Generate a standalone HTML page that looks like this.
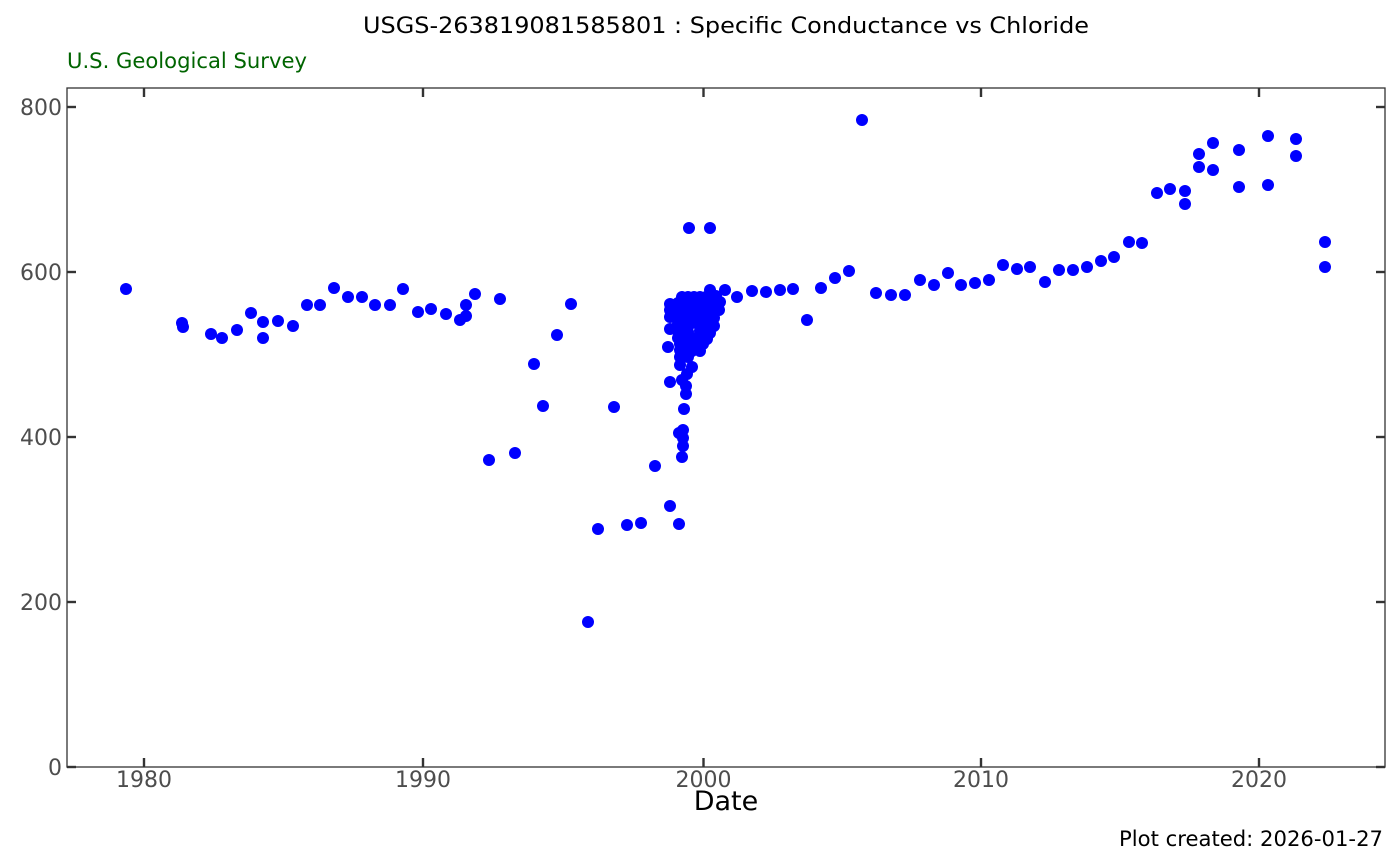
<!DOCTYPE html>
<html><head><meta charset="utf-8"><style>
html,body{margin:0;padding:0;background:#fff;}
svg{display:block;}
text{font-family:"DejaVu Sans","Liberation Sans",sans-serif;}
</style></head><body>
<svg width="1400" height="866" viewBox="0 0 1400 866" xmlns="http://www.w3.org/2000/svg">
<rect x="0" y="0" width="1400" height="866" fill="#fff"/>
<text x="726" y="33" font-size="22" text-anchor="middle" fill="#000" textLength="726" lengthAdjust="spacingAndGlyphs">USGS-263819081585801 : Specific Conductance vs Chloride</text>
<text x="67" y="68" font-size="21" fill="#006400" textLength="240" lengthAdjust="spacingAndGlyphs">U.S. Geological Survey</text>
<text x="1383" y="846" font-size="21" text-anchor="end" fill="#000" textLength="264" lengthAdjust="spacingAndGlyphs">Plot created: 2026-01-27</text>
<text x="726" y="810" font-size="27" text-anchor="middle" fill="#000">Date</text>

<rect x="67" y="88" width="1318" height="679" fill="none" stroke="#333" stroke-width="1.3"/>
<g stroke="#333" stroke-width="2.4">
<line x1="67" y1="767" x2="76" y2="767"/><line x1="67" y1="602" x2="76" y2="602"/><line x1="67" y1="437" x2="76" y2="437"/><line x1="67" y1="272" x2="76" y2="272"/><line x1="67" y1="107" x2="76" y2="107"/>
<line x1="1385" y1="767" x2="1376" y2="767"/><line x1="1385" y1="602" x2="1376" y2="602"/><line x1="1385" y1="437" x2="1376" y2="437"/><line x1="1385" y1="272" x2="1376" y2="272"/><line x1="1385" y1="107" x2="1376" y2="107"/>
<line x1="144" y1="767" x2="144" y2="758"/><line x1="423" y1="767" x2="423" y2="758"/><line x1="703.5" y1="767" x2="703.5" y2="758"/><line x1="981" y1="767" x2="981" y2="758"/><line x1="1259" y1="767" x2="1259" y2="758"/>
<line x1="144" y1="88" x2="144" y2="97"/><line x1="423" y1="88" x2="423" y2="97"/><line x1="703.5" y1="88" x2="703.5" y2="97"/><line x1="981" y1="88" x2="981" y2="97"/><line x1="1259" y1="88" x2="1259" y2="97"/>
</g>
<g font-size="22" fill="#4d4d4d" text-anchor="end">
<text x="62" y="775">0</text><text x="62" y="610">200</text><text x="62" y="445">400</text><text x="62" y="280">600</text><text x="62" y="115">800</text>
</g>
<g font-size="22" fill="#4d4d4d" text-anchor="middle">
<text x="144" y="787">1980</text><text x="423" y="787">1990</text><text x="703.5" y="787">2000</text><text x="981" y="787">2010</text><text x="1259" y="787">2020</text>
</g>

<g fill="#0000ff">
<circle cx="126" cy="289" r="6"/><circle cx="182" cy="323" r="6"/><circle cx="183" cy="327" r="6"/><circle cx="211" cy="334" r="6"/><circle cx="222" cy="338" r="6"/><circle cx="237" cy="330" r="6"/><circle cx="251" cy="313" r="6"/><circle cx="263" cy="322" r="6"/><circle cx="263" cy="338" r="6"/><circle cx="278" cy="321" r="6"/><circle cx="293" cy="326" r="6"/><circle cx="307" cy="305" r="6"/><circle cx="320" cy="305" r="6"/><circle cx="334" cy="288" r="6"/><circle cx="348" cy="297" r="6"/><circle cx="362" cy="297" r="6"/><circle cx="375" cy="305" r="6"/><circle cx="390" cy="305" r="6"/><circle cx="403" cy="289" r="6"/><circle cx="418" cy="312" r="6"/><circle cx="431" cy="309" r="6"/><circle cx="446" cy="314" r="6"/><circle cx="460" cy="320" r="6"/><circle cx="466" cy="316" r="6"/><circle cx="466" cy="305" r="6"/><circle cx="475" cy="294" r="6"/><circle cx="500" cy="299" r="6"/><circle cx="489" cy="460" r="6"/><circle cx="515" cy="453" r="6"/><circle cx="534" cy="364" r="6"/><circle cx="543" cy="406" r="6"/><circle cx="557" cy="335" r="6"/><circle cx="571" cy="304" r="6"/><circle cx="588" cy="622" r="6"/><circle cx="598" cy="529" r="6"/><circle cx="614" cy="407" r="6"/><circle cx="627" cy="525" r="6"/><circle cx="641" cy="523" r="6"/><circle cx="655" cy="466" r="6"/><circle cx="670" cy="506" r="6"/><circle cx="679" cy="524" r="6"/>
<circle cx="689" cy="228" r="6"/><circle cx="710" cy="228" r="6"/>
<!-- cluster -->
<circle cx="682" cy="297" r="6"/><circle cx="688" cy="297" r="6"/><circle cx="694" cy="297" r="6"/><circle cx="700" cy="297" r="6"/><circle cx="706" cy="297" r="6"/><circle cx="716" cy="296" r="6"/><circle cx="720" cy="302" r="6"/>
<circle cx="670" cy="304" r="6"/><circle cx="678" cy="303" r="6"/><circle cx="684" cy="303" r="6"/><circle cx="690" cy="303" r="6"/><circle cx="696" cy="303" r="6"/><circle cx="702" cy="303" r="6"/><circle cx="708" cy="303" r="6"/><circle cx="714" cy="303" r="6"/>
<circle cx="670" cy="310" r="6"/><circle cx="678" cy="310" r="6"/><circle cx="684" cy="310" r="6"/><circle cx="690" cy="310" r="6"/><circle cx="696" cy="310" r="6"/><circle cx="702" cy="310" r="6"/><circle cx="708" cy="310" r="6"/><circle cx="714" cy="310" r="6"/><circle cx="719" cy="310" r="6"/>
<circle cx="670" cy="317" r="6"/><circle cx="678" cy="317" r="6"/><circle cx="684" cy="317" r="6"/><circle cx="690" cy="317" r="6"/><circle cx="696" cy="317" r="6"/><circle cx="702" cy="317" r="6"/><circle cx="708" cy="317" r="6"/><circle cx="714" cy="318" r="6"/>
<circle cx="678" cy="324" r="6"/><circle cx="684" cy="324" r="6"/><circle cx="690" cy="324" r="6"/><circle cx="698" cy="324" r="6"/><circle cx="704" cy="324" r="6"/><circle cx="710" cy="324" r="6"/><circle cx="714" cy="326" r="6"/>
<circle cx="670" cy="329" r="6"/>
<circle cx="678" cy="331" r="6"/><circle cx="684" cy="331" r="6"/><circle cx="688" cy="332" r="6"/><circle cx="700" cy="331" r="6"/><circle cx="706" cy="331" r="6"/><circle cx="710" cy="333" r="6"/>
<circle cx="678" cy="338" r="6"/><circle cx="684" cy="338" r="6"/><circle cx="690" cy="338" r="6"/><circle cx="696" cy="338" r="6"/><circle cx="702" cy="338" r="6"/><circle cx="707" cy="339" r="6"/>
<circle cx="680" cy="344" r="6"/><circle cx="686" cy="344" r="6"/><circle cx="692" cy="344" r="6"/><circle cx="698" cy="344" r="6"/><circle cx="703" cy="344" r="6"/>
<circle cx="668" cy="347" r="6"/>
<circle cx="680" cy="350" r="6"/><circle cx="686" cy="350" r="6"/><circle cx="692" cy="351" r="6"/><circle cx="700" cy="351" r="6"/>
<circle cx="680" cy="357" r="6"/><circle cx="688" cy="357" r="6"/>
<circle cx="680" cy="365" r="6"/><circle cx="692" cy="367" r="6"/><circle cx="687" cy="374" r="6"/><circle cx="682" cy="380" r="6"/><circle cx="670" cy="382" r="6"/><circle cx="686" cy="386" r="6"/><circle cx="686" cy="394" r="6"/><circle cx="684" cy="409" r="6"/><circle cx="679" cy="433" r="6"/><circle cx="683" cy="430" r="6"/><circle cx="683" cy="438" r="6"/><circle cx="683" cy="446" r="6"/><circle cx="682" cy="457" r="6"/>
<!-- right -->
<circle cx="710" cy="290" r="6"/><circle cx="725" cy="290" r="6"/><circle cx="737" cy="297" r="6"/><circle cx="752" cy="291" r="6"/><circle cx="766" cy="292" r="6"/><circle cx="780" cy="290" r="6"/><circle cx="793" cy="289" r="6"/><circle cx="807" cy="320" r="6"/><circle cx="821" cy="288" r="6"/><circle cx="835" cy="278" r="6"/><circle cx="849" cy="271" r="6"/><circle cx="862" cy="120" r="6"/><circle cx="876" cy="293" r="6"/><circle cx="891" cy="295" r="6"/><circle cx="905" cy="295" r="6"/><circle cx="920" cy="280" r="6"/><circle cx="934" cy="285" r="6"/><circle cx="948" cy="273" r="6"/><circle cx="961" cy="285" r="6"/><circle cx="975" cy="283" r="6"/><circle cx="989" cy="280" r="6"/><circle cx="1003" cy="265" r="6"/><circle cx="1017" cy="269" r="6"/><circle cx="1030" cy="267" r="6"/><circle cx="1045" cy="282" r="6"/><circle cx="1059" cy="270" r="6"/><circle cx="1073" cy="270" r="6"/><circle cx="1087" cy="267" r="6"/><circle cx="1101" cy="261" r="6"/><circle cx="1114" cy="257" r="6"/><circle cx="1129" cy="242" r="6"/><circle cx="1142" cy="243" r="6"/><circle cx="1157" cy="193" r="6"/><circle cx="1170" cy="189" r="6"/><circle cx="1185" cy="191" r="6"/><circle cx="1185" cy="204" r="6"/><circle cx="1199" cy="154" r="6"/><circle cx="1199" cy="167" r="6"/><circle cx="1213" cy="143" r="6"/><circle cx="1213" cy="170" r="6"/><circle cx="1239" cy="150" r="6"/><circle cx="1239" cy="187" r="6"/><circle cx="1268" cy="136" r="6"/><circle cx="1268" cy="185" r="6"/><circle cx="1296" cy="139" r="6"/><circle cx="1296" cy="156" r="6"/><circle cx="1325" cy="242" r="6"/><circle cx="1325" cy="267" r="6"/>
</g>
</svg>
</body></html>
